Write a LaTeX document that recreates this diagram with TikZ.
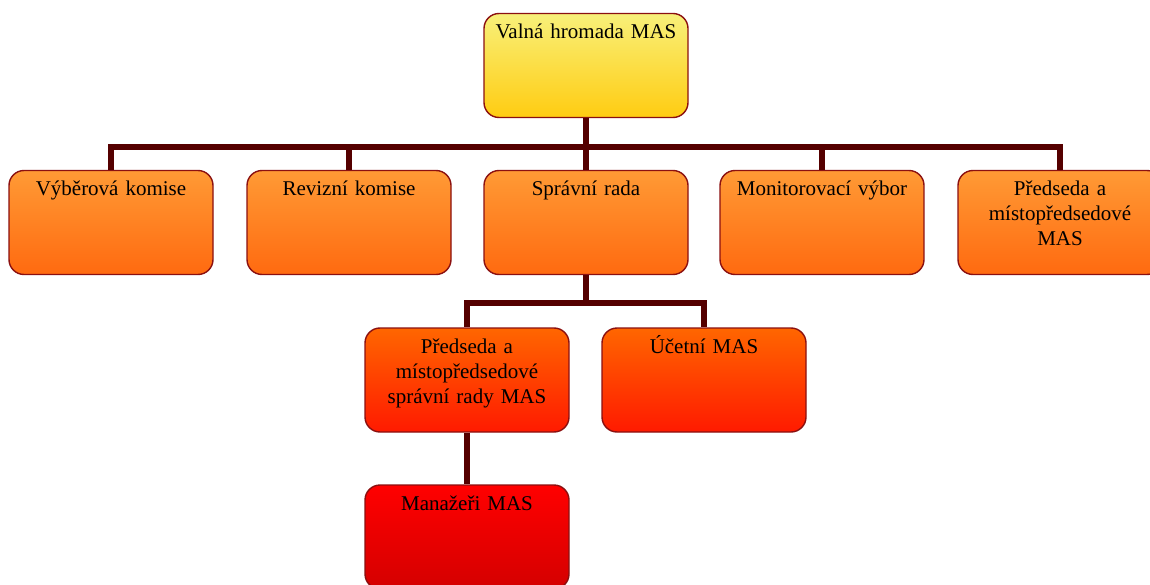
\documentclass[tikz,border=0pt]{standalone}
\usepackage{fontspec}
\setmainfont{Liberation Serif}
\begin{document}
\begin{tikzpicture}[x=1pt,y=-1pt,line join=miter]
\tikzset{
  unit/.style={draw=frame,line width=1.4pt,shape=rectangle,rounded corners=15pt,minimum width=204pt,minimum height=104pt,inner sep=0pt},
  title/.style={anchor=base,yshift=-26pt,text width=200pt,align=center,inner sep=0pt,font=\fontsize{21}{25}\selectfont},
  link/.style={draw=wire,line width=6pt}
}
\definecolor{frame}{HTML}{8B1010}
\definecolor{wire}{HTML}{550000}
\clip (0,0) rectangle (1150,585);
\node[unit,top color={rgb,255:red,248;green,240;blue,122},bottom color={rgb,255:red,255;green,204;blue,17},label={[title]north:Valná hromada MAS}] (valna) at (586,65.5) {};
\node[unit,top color={rgb,255:red,255;green,154;blue,53},bottom color={rgb,255:red,255;green,106;blue,16},label={[title]north:Výběrová komise}] (vyber) at (111,222.5) {};
\node[unit,top color={rgb,255:red,255;green,154;blue,53},bottom color={rgb,255:red,255;green,106;blue,16},label={[title]north:Revizní komise}] (reviz) at (349,222.5) {};
\node[unit,top color={rgb,255:red,255;green,154;blue,53},bottom color={rgb,255:red,255;green,106;blue,16},label={[title]north:Správní rada}] (sprav) at (586,222.5) {};
\node[unit,top color={rgb,255:red,255;green,154;blue,53},bottom color={rgb,255:red,255;green,106;blue,16},label={[title]north:Monitorovací výbor}] (monit) at (822,222.5) {};
\node[unit,top color={rgb,255:red,255;green,154;blue,53},bottom color={rgb,255:red,255;green,106;blue,16},label={[title]north:Předseda a\\místopředsedové\\MAS}] (predmas) at (1060,222.5) {};
\node[unit,top color={rgb,255:red,255;green,102;blue,0},bottom color={rgb,255:red,255;green,26;blue,0},label={[title]north:Předseda a\\místopředsedové\\správní rady MAS}] (predsr) at (467,380) {};
\node[unit,top color={rgb,255:red,255;green,102;blue,0},bottom color={rgb,255:red,255;green,26;blue,0},label={[title]north:Účetní MAS}] (ucet) at (704,380) {};
\node[unit,top color={rgb,255:red,255;green,0;blue,0},bottom color={rgb,255:red,212;green,0;blue,0},label={[title]north:Manažeři MAS}] (manaz) at (467,537) {};
\coordinate (bus1) at (586,147);
\coordinate (bus2) at (586,303);
\draw[link] (valna.south) -- (bus1);
\foreach \n in {vyber,reviz,sprav,monit,predmas}
  \draw[link] (bus1) -| (\n.north);
\draw[link] (sprav.south) -- (bus2);
\foreach \n in {predsr,ucet}
  \draw[link] (bus2) -| (\n.north);
\draw[link] (predsr.south) -- (manaz.north);
\end{tikzpicture}
\end{document}
